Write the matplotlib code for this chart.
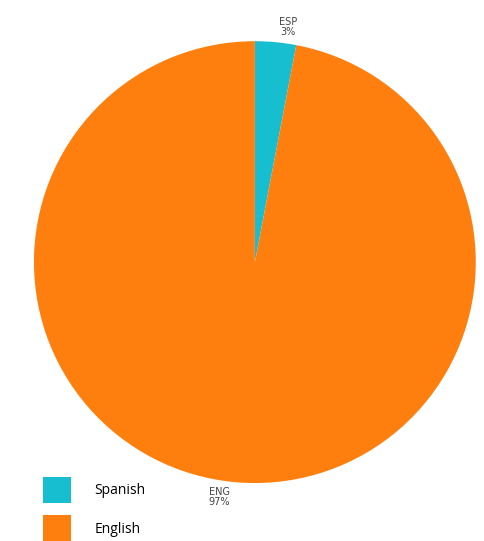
import matplotlib.pyplot as plt

codes = ['ESP', 'ENG']
languages = ['Spanish', 'English']
shares = [3, 97]
colors = ['#17becf', '#ff7f0e']

fig = plt.figure(figsize=(4.85, 5.41), dpi=100)
ax = fig.add_axes([0.070, 0.107, 0.911, 0.817])

labels = [c + '\n' + str(s) + '%' for c, s in zip(codes, shares)]
wedges, texts = ax.pie(shares, colors=colors, labels=labels, startangle=90,
                       counterclock=False, labeldistance=1.07,
                       textprops={'fontsize': 7, 'color': '#444444'})
# nudge labels sideways a bit, like the original
for t, dx in zip(texts, [0.05, -0.06]):
    x, y = t.get_position()
    t.set_position((x + dx, y))
    t.set_ha('center')
    t.set_linespacing(1.0)
ax.set_xlim(-1, 1)
ax.set_ylim(-1, 1)
ax.set_aspect('equal')

fig.legend(wedges, languages, loc='upper left', bbox_to_anchor=(0.089, 0.119),
           frameon=False, handlelength=2.0, handleheight=2.6,
           handletextpad=1.7, labelspacing=0.85, borderpad=0, borderaxespad=0,
           prop={'family': 'Open Sans', 'size': 10})

fig.savefig('out.png', dpi=100)
